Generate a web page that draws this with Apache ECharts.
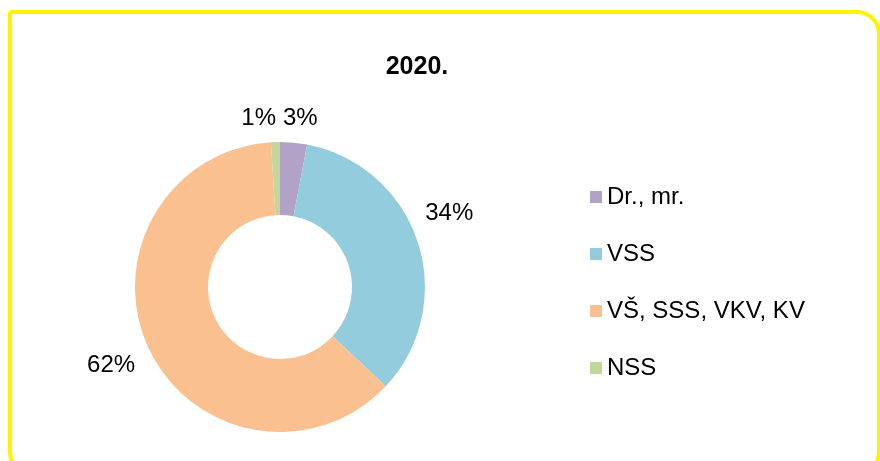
<!DOCTYPE html>
<html>
<head>
<meta charset="utf-8">
<script src="https://cdn.jsdelivr.net/npm/echarts@6/dist/echarts.min.js"></script>
<style>
  html, body { margin: 0; padding: 0; background: #fff; }
  #chart { width: 880px; height: 461px; }
</style>
</head>
<body>
<div id="chart"></div>
<script>
// Education structure, share of staff (%), year 2020
const titleText = '2020.';
const categories = ['Dr., mr.', 'VSS', 'VŠ, SSS, VKV, KV', 'NSS'];
const shares = [3, 34, 62, 1];
const colors = ['#B3A2C7', '#93CDDD', '#FAC090', '#C3D69B'];

// small nudges so the outside labels sit where they read best
const labelNudges = [
  { dx: -17, dy: -10 },
  { dx: -11, dy: -24 },
  { dx: 4, dy: 11 },
  { dx: 6, dy: -10 }
];

const FONT = '"Liberation Sans", Arial, sans-serif';

const chart = echarts.init(document.getElementById('chart'), null, { renderer: 'canvas' });

chart.setOption({
  animation: false,
  backgroundColor: '#ffffff',
  graphic: [{
    type: 'rect',
    shape: { x: 10, y: 12, width: 869, height: 462, r: [0, 22, 22, 22] },
    style: { fill: 'none', stroke: '#FFF200', lineWidth: 4 },
    silent: true,
    z: -1
  }],
  title: {
    text: titleText,
    left: 412,
    top: 49,
    textAlign: 'center',
    textStyle: { fontFamily: FONT, fontSize: 25, fontWeight: 'bold', color: '#000', lineHeight: 26 }
  },
  legend: {
    orient: 'vertical',
    left: 590,
    top: 185,
    padding: 0,
    itemWidth: 12,
    itemHeight: 12,
    itemGap: 33,
    icon: 'rect',
    data: categories,
    textStyle: { fontFamily: FONT, fontSize: 24, color: '#000', lineHeight: 24 }
  },
  series: [{
    type: 'pie',
    center: [280, 287],
    radius: [72, 145],
    startAngle: 90,
    clockwise: true,
    avoidLabelOverlap: false,
    label: {
      show: true,
      position: 'outside',
      formatter: (p) => p.value + '%',
      fontFamily: FONT,
      fontSize: 24,
      color: '#000'
    },
    labelLine: { show: false, length: 14, length2: 0 },
    labelLayout: (params) => labelNudges[params.dataIndex],
    emphasis: { disabled: true },
    data: categories.map((name, i) => ({
      name: name,
      value: shares[i],
      itemStyle: { color: colors[i] }
    }))
  }]
});
</script>
</body>
</html>
